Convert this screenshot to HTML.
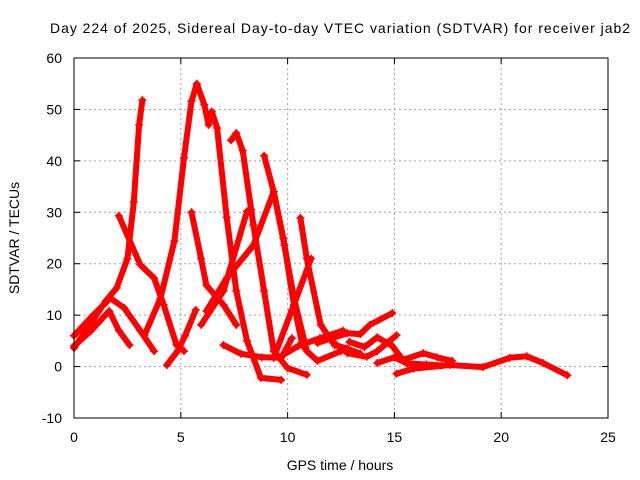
<!DOCTYPE html>
<html><head><meta charset="utf-8"><style>
body{margin:0;background:#fff}
svg{display:block;font-family:"Liberation Sans",sans-serif}
</style></head><body>
<svg id="chart" width="640" height="480">
<rect width="640" height="480" fill="#fff"/>
<text x="340" y="33" text-anchor="middle" font-size="14" textLength="580">Day 224 of 2025, Sidereal Day-to-day VTEC variation (SDTVAR) for receiver jab2</text>
<text transform="translate(19,238) rotate(-90)" text-anchor="middle" font-size="14">SDTVAR / TECUs</text>
<text x="340" y="470" text-anchor="middle" font-size="14">GPS time / hours</text>
<g id="grid"></g><g id="ticks"></g><g id="series"></g>
<rect x="74" y="58" width="534" height="360" fill="none" stroke="#000" stroke-width="1"/>
</svg>
<script>
const xTicks=[0,5,10,15,20,25];
const yTicks=[-10,0,10,20,30,40,50,60];
const t1=[0,1.5,2.0,2.5,2.8,3.05,3.2];
const v1=[3.6,12.8,15.3,21,32,47,51.8];
const t2=[0,0.8,1.65,2.1,2.6];
const v2=[4,7,10.8,7,4.2];
const t3=[0,0.9,1.7,2.35,3.1,3.75];
const v3=[6,10,13.3,11.4,7,3];
const t4=[2.1,3.1,3.75,4.2,4.8,5.15];
const v4=[29.3,19.8,17.2,12,4.2,3];
const t5=[3.3,4.05,4.7,5.15,5.5,5.75,6.1,6.3,6.45,6.7,7.15,7.6,8.1,8.75,9.7];
const v5=[6.1,13.3,24.4,40.6,51.6,55,50.9,47,49.6,46.4,29,14.7,5,-2.2,-2.6];
const t6=[4.35,4.85,5.2,5.7];
const v6=[0.3,3,6,11];
const t7=[7.35,7.6,7.9,8.4,8.9,9.35,10,10.9];
const v7=[44,45.4,42,27.5,14.7,3,-0.3,-1.6];
const t8=[8.9,9.35,9.85,10.3,10.9,11.4,12.5];
const v8=[41,34,23.6,13.3,3,1.1,3];
const t9=[10.6,10.9,11.55,12.2,12.8,13.4];
const v9=[28.9,21,8.1,4.2,3.5,2.5];
const t10=[5.5,5.95,6.2,7.0,7.6];
const v10=[30,21,15.8,12,8.1];
const t11=[5.95,7.0,8.1,8.3];
const v11=[8.1,14.7,30.2,30.5];
const t12=[6.2,7.15,8.4,9.35,9.8,10.3,10.7];
const v12=[10.8,17.2,23.6,34,25,12,4];
const t13=[9.35,10.2,11.1];
const v13=[1.7,11,21];
const t14=[7.0,7.8,8.8,9.7,10.2];
const v14=[4.2,2.5,1.8,1.7,5.5];
const t15=[9.6,10.5,11.5,12.6];
const v15=[1.8,4,5.5,7];
const t16=[11.4,12.8,13.4,13.85,14.9];
const v16=[4.6,6.5,6.3,8.1,10.4];
const t17=[12,12.8,13.7,14.2,15.1];
const v17=[5.2,2.6,1.9,3,6.1];
const t18=[12.9,13.6,14.2,14.9,15.4,16.35,17.0,17.7];
const v18=[4.8,3.8,5.7,4,1.3,2.6,1.8,1.1];
const t19=[15.1,15.9,17.6,19.15,20.4,21.2,21.95,23.1];
const v19=[-1.4,-0.4,0.3,-0.1,1.7,2,0.7,-1.7];
const t20=[14.2,15.0,15.6,16.5,17.2];
const v20=[0.7,1.8,0.6,0.4,0.2];
const tracks=[[t1,v1],[t2,v2],[t3,v3],[t4,v4],[t5,v5],[t6,v6],[t7,v7],[t8,v8],[t9,v9],[t10,v10],[t11,v11],[t12,v12],[t13,v13],[t14,v14],[t15,v15],[t16,v16],[t17,v17],[t18,v18],[t19,v19],[t20,v20]];
const NS='http://www.w3.org/2000/svg';
const X=t=>74+t*534/25;
const Y=v=>418-(v+10)*360/70;
const grid=document.getElementById('grid'),ticks=document.getElementById('ticks'),ser=document.getElementById('series');
function mk(tag,attrs,parent){const e=document.createElementNS(NS,tag);for(const k in attrs)e.setAttribute(k,attrs[k]);parent.appendChild(e);return e;}
xTicks.forEach(t=>{
  const x=X(t);
  if(t>0&&t<25){const g=mk('line',{x1:x,x2:x,y1:58,y2:418,stroke:'#a0a0a0','stroke-dasharray':'2,3'},grid);
  
  }
  const a=mk('line',{x1:x,x2:x,y1:418,y2:412,stroke:'#000'},ticks);
  
  
  const b=mk('line',{x1:x,x2:x,y1:58,y2:64,stroke:'#000'},ticks);
  
  
  const l=mk('text',{x:x,y:442,'text-anchor':'middle','font-size':14},ticks);l.textContent=t;
  
  
});
yTicks.forEach(v=>{
  const y=Y(v);
  if(v>-10&&v<60){const g=mk('line',{x1:74,x2:608,y1:y,y2:y,stroke:'#a0a0a0','stroke-dasharray':'2,3'},grid);
  
  }
  const a=mk('line',{x1:74,x2:80,y1:y,y2:y,stroke:'#000'},ticks);
  
  
  const b=mk('line',{x1:602,x2:608,y1:y,y2:y,stroke:'#000'},ticks);
  
  
  const l=mk('text',{x:62,y:y+5,'text-anchor':'end','font-size':14},ticks);l.textContent=v;
  
  
});
tracks.forEach((tr,i)=>{
  const pts=tr[0].map((t,j)=>X(t).toFixed(1)+','+Y(tr[1][j]).toFixed(1)).join(' ');
  const p=mk('polyline',{points:pts,fill:'none',stroke:'#ff0000','stroke-width':6,'stroke-linejoin':'round','stroke-linecap':'round'},ser);
  
  
  tr[0].forEach((t,j)=>{
    const x=X(t),y=Y(tr[1][j]);
    const m=mk('path',{d:`M${x-4},${y}H${x+4}M${x},${y-4}V${y+4}`,stroke:'#ff0000','stroke-width':1.5},ser);
    
    
  });
});
</script>
</body></html>
